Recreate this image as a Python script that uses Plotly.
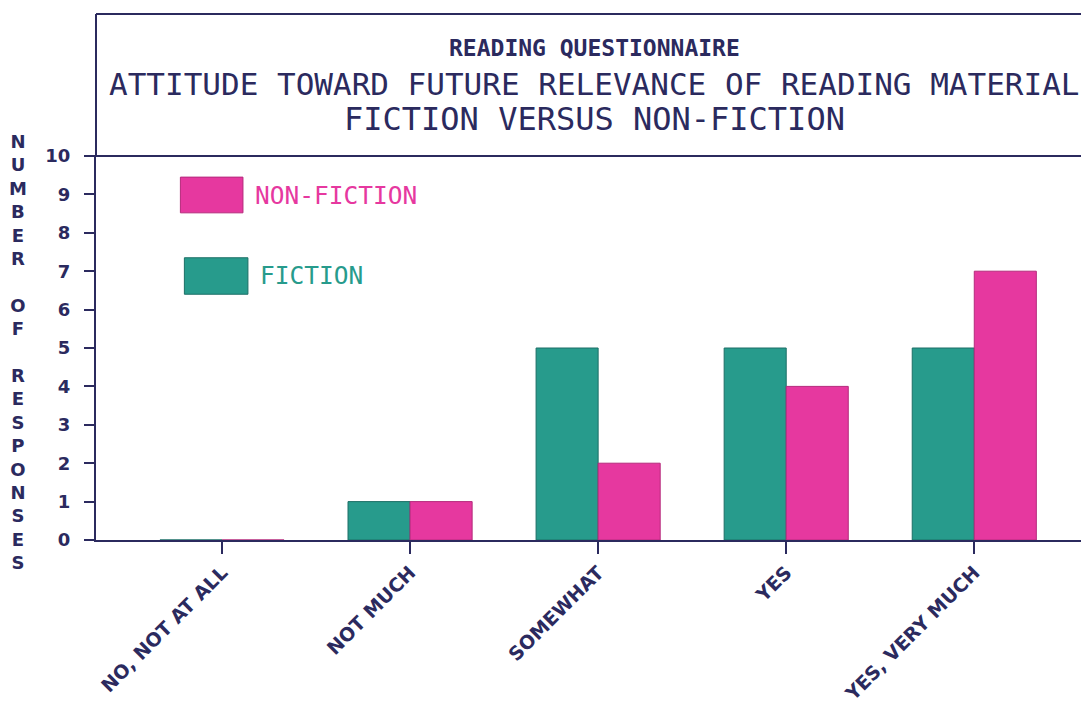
import plotly.graph_objects as go

categories = ["NO, NOT AT ALL", "NOT MUCH", "SOMEWHAT", "YES", "YES, VERY MUCH"]
fiction = [0, 1, 5, 5, 5]
non_fiction = [0, 1, 2, 4, 7]
y_ticks = [0, 1, 2, 3, 4, 5, 6, 7, 8, 9, 10]

teal = "#279b8c"
pink = "#e6389f"
ink = "#2b2a5e"

fig = go.Figure()
fig.add_trace(go.Bar(x=categories, y=fiction, name="FICTION",
                     marker=dict(color=teal, line=dict(color="#1c6f66", width=1))))
fig.add_trace(go.Bar(x=categories, y=non_fiction, name="NON-FICTION",
                     marker=dict(color=pink, line=dict(color="#b52a7c", width=1))))

# title box (paper coords: plot is 993 x 384 px)
fig.add_shape(type="line", xref="paper", yref="paper", x0=0, x1=1, y0=1.37, y1=1.37,
              line=dict(color=ink, width=2))
fig.add_shape(type="line", xref="paper", yref="paper", x0=0, x1=0, y0=1.0, y1=1.37,
              line=dict(color=ink, width=2))
fig.add_shape(type="line", xref="paper", yref="paper", x0=-0.008, x1=1, y0=1.0, y1=1.0,
              line=dict(color=ink, width=2))

titles = [("READING QUESTIONNAIRE", 1.282, 23, "bold"),
          ("ATTITUDE TOWARD FUTURE RELEVANCE OF READING MATERIAL", 1.188, 31, "normal"),
          ("FICTION VERSUS NON-FICTION", 1.097, 32, "normal")]
for txt, yy, size, weight in titles:
    fig.add_annotation(text=txt, xref="paper", yref="paper", x=0.5025, y=yy,
                       showarrow=False, xanchor="center", yanchor="middle",
                       font=dict(family="DejaVu Sans Mono", size=size, color=ink, weight=weight))

# legend boxes
fig.add_shape(type="rect", xref="paper", yref="paper", x0=0.085, x1=0.148, y0=0.852, y1=0.945,
              fillcolor=pink, line=dict(color="#b52a7c", width=1))
fig.add_annotation(text="NON-FICTION", xref="paper", yref="paper", x=0.158, y=0.898,
                   showarrow=False, xanchor="left", yanchor="middle",
                   font=dict(family="DejaVu Sans Mono", size=24.5, color=pink))
fig.add_shape(type="rect", xref="paper", yref="paper", x0=0.089, x1=0.153, y0=0.64, y1=0.735,
              fillcolor=teal, line=dict(color="#1c6f66", width=1))
fig.add_annotation(text="FICTION", xref="paper", yref="paper", x=0.163, y=0.688,
                   showarrow=False, xanchor="left", yanchor="middle",
                   font=dict(family="DejaVu Sans Mono", size=24.5, color=teal))

# stacked vertical axis title
ytitle = "NUMBER OF RESPONSES"
fig.add_annotation(text="<br>".join(c if c != " " else "&nbsp;" for c in ytitle),
                   xref="paper", yref="paper", x=-0.079, y=0.49,
                   showarrow=False, xanchor="center", yanchor="middle",
                   font=dict(family="DejaVu Sans", size=18, color=ink, weight="bold"))

fig.update_layout(
    width=1081, height=705,
    margin=dict(l=88, r=0, t=148, b=173),
    paper_bgcolor="white", plot_bgcolor="white",
    barmode="group", bargap=0.34, bargroupgap=0,
    showlegend=False,
    xaxis=dict(range=[-0.67, 4.61], showgrid=False, showline=True, linecolor=ink, linewidth=2,
               ticks="outside", ticklen=12, tickcolor=ink, tickwidth=2, tickangle=-45,
               tickfont=dict(family="DejaVu Sans", size=19, color=ink, weight="bold")),
    yaxis=dict(range=[0, 10], tickvals=y_ticks, showgrid=False, zeroline=False,
               showline=True, linecolor=ink, linewidth=2,
               ticks="outside", ticklen=10, tickcolor=ink, tickwidth=2,
               ticklabelstandoff=10,
               tickfont=dict(family="DejaVu Sans", size=18, color=ink, weight="bold")),
)

fig.write_html("out.html")
